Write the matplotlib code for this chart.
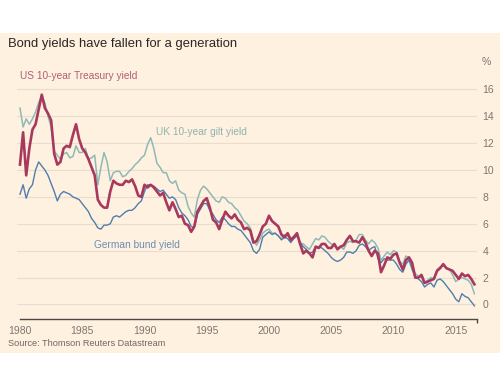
import numpy as np
import matplotlib
matplotlib.use("Agg")
import matplotlib.pyplot as plt
from matplotlib.patches import Rectangle

# Quarterly readings, 1980.0 onward (step 0.25 year)
us_treasury = [
    10.4, 12.8, 9.6, 11.6,
    13.0, 13.4, 14.5, 15.6,
    14.6, 14.2, 13.7, 11.2,
    10.4, 10.6, 11.6, 11.8,
    11.7, 12.6, 13.4, 12.3,
    11.6, 11.3, 10.8, 10.2,
    9.6, 7.8, 7.4, 7.2,
    7.2, 8.4, 9.2, 9.0,
    8.9, 8.9, 9.2, 9.1,
    9.3, 8.8, 8.1, 8.0,
    8.9, 8.7, 8.9, 8.7,
    8.4, 8.1, 8.3, 7.6,
    7.0, 7.6, 7.1, 6.5,
    6.6, 6.0, 5.9, 5.4,
    5.8, 6.9, 7.3, 7.7,
    7.9, 7.2, 6.3, 6.1,
    5.6, 6.3, 6.9, 6.6,
    6.4, 6.7, 6.3, 6.1,
    5.6, 5.7, 5.5, 4.6,
    4.7, 5.2, 5.8, 6.0,
    6.6, 6.2, 6.0, 5.8,
    5.2, 5.0, 5.3, 4.8,
    5.0, 5.3, 4.5, 3.8,
    4.0, 3.8, 3.5, 4.3,
    4.2, 4.5, 4.5, 4.2,
    4.2, 4.5, 4.1, 4.3,
    4.4, 4.8, 5.1, 4.7,
    4.7, 4.6, 5.0, 4.6,
    4.0, 3.6, 4.0, 3.8,
    2.4, 2.9, 3.5, 3.4,
    3.7, 3.8, 3.1, 2.6,
    3.3, 3.5, 3.1, 2.0,
    2.0, 2.2, 1.6, 1.7,
    1.8, 1.9, 2.5, 2.7,
    3.0, 2.7, 2.6, 2.5,
    2.2, 1.9, 2.3, 2.1,
    2.2, 1.9, 1.5,
]

uk_gilt = [
    14.6, 13.2, 13.8, 13.4,
    13.8, 14.3, 15.0, 15.5,
    15.0, 14.0, 13.2, 11.4,
    11.1, 10.8, 11.2, 11.3,
    10.9, 11.0, 11.8, 11.3,
    11.3, 11.6, 10.8, 10.9,
    11.1, 8.9, 10.2, 11.3,
    10.6, 9.2, 9.8, 9.9,
    9.9, 9.5, 9.6, 9.9,
    10.1, 10.4, 10.6, 10.9,
    11.1, 11.9, 12.4, 11.6,
    10.5, 10.2, 9.8, 9.8,
    9.2, 9.0, 9.2, 8.5,
    8.3, 8.2, 7.3, 6.8,
    6.5, 7.8, 8.5, 8.8,
    8.6, 8.3, 8.0, 7.7,
    7.6, 8.0, 7.9, 7.6,
    7.5, 7.2, 7.0, 6.6,
    6.2, 6.0, 5.7, 4.8,
    4.4, 4.8, 5.3, 5.5,
    5.6, 5.3, 5.3, 5.1,
    4.9, 5.2, 5.1, 4.9,
    5.1, 5.3, 4.6, 4.5,
    4.3, 4.1, 4.5, 4.9,
    4.8, 5.1, 5.0, 4.7,
    4.5, 4.4, 4.2, 4.3,
    4.1, 4.6, 4.7, 4.6,
    4.8, 5.2, 5.2, 4.8,
    4.5, 4.8, 4.6, 4.2,
    3.3, 3.6, 3.9, 3.7,
    4.0, 3.9, 3.2, 3.0,
    3.6, 3.5, 2.8, 2.3,
    2.1, 2.0, 1.6, 1.8,
    2.0, 1.9, 2.6, 2.8,
    2.9, 2.7, 2.6, 2.2,
    1.7, 1.9, 2.0, 1.9,
    1.8, 1.5, 0.8,
]

german_bund = [
    8.2, 8.9, 7.9, 8.6,
    8.9, 10.0, 10.6, 10.3,
    10.0, 9.6, 9.0, 8.4,
    7.7, 8.2, 8.4, 8.3,
    8.2, 8.0, 7.9, 7.8,
    7.5, 7.2, 6.9, 6.4,
    6.1, 5.7, 5.6, 5.9,
    5.9, 6.0, 6.5, 6.6,
    6.5, 6.7, 6.9, 7.0,
    7.0, 7.2, 7.5, 7.7,
    8.4, 8.9, 8.9, 8.8,
    8.6, 8.4, 8.5, 8.2,
    7.9, 8.0, 7.8, 7.2,
    6.8, 6.6, 6.3, 5.8,
    5.7, 6.7, 7.1, 7.5,
    7.5, 7.0, 6.7, 6.3,
    6.1, 6.5, 6.3, 6.0,
    5.8, 5.8, 5.6, 5.5,
    5.2, 4.9, 4.6, 4.0,
    3.8, 4.1, 5.0, 5.2,
    5.4, 5.2, 5.3, 5.1,
    4.8, 5.0, 4.9, 4.6,
    4.9, 5.1, 4.6, 4.3,
    4.1, 3.8, 3.9, 4.3,
    4.3, 4.2, 4.0, 3.8,
    3.5, 3.3, 3.2, 3.3,
    3.5, 3.9, 3.9, 3.8,
    4.0, 4.4, 4.5, 4.3,
    4.0, 4.2, 4.3, 3.4,
    3.1, 3.4, 3.3, 3.3,
    3.3, 3.0, 2.6, 2.4,
    3.0, 3.3, 2.6, 2.0,
    1.9, 1.7, 1.3, 1.5,
    1.6, 1.3, 1.8, 1.9,
    1.7, 1.4, 1.1, 0.8,
    0.4, 0.2, 0.8, 0.6,
    0.5, 0.2, -0.1,
]

year_ticks = [1980, 1985, 1990, 1995, 2000, 2005, 2010, 2015]
yield_ticks = [0, 2, 4, 6, 8, 10, 12, 14, 16]

dates = 1980 + 0.25 * np.arange(len(us_treasury))

BG = "#fff1e0"
plt.rcParams['font.family'] = ['Liberation Sans', 'DejaVu Sans']

fig = plt.figure(figsize=(5.0, 3.89), dpi=100, facecolor="white")
fig.patches.append(Rectangle((0, 36 / 389), 1, 320 / 389, transform=fig.transFigure,
                             facecolor=BG, edgecolor="none", zorder=-10))

ax = fig.add_axes([17 / 500, 70 / 389, 460 / 500, 264 / 389])
ax.set_zorder(5)
ax.patch.set_alpha(0)

ax.plot(dates, uk_gilt, color="#8dbab6", lw=1.1, zorder=3)
ax.plot(dates, german_bund, color="#4f7eac", lw=1.0, zorder=4)
ax.plot(dates, us_treasury, color="#a8385c", lw=1.9, zorder=5)

ax.set_xlim(1979.76, 2016.71)
ax.set_ylim(-1.08, 18.55)

for s in ["top", "left", "right"]:
    ax.spines[s].set_visible(False)
ax.spines["bottom"].set_color("#4d4845")
ax.spines["bottom"].set_linewidth(1.0)
ax.spines["bottom"].set_bounds(1980, 2016.71)

ax.set_xticks(year_ticks)
ax.set_xticklabels([str(y) for y in year_ticks])
ax.tick_params(axis="x", length=0, pad=5, labelsize=7.5, labelcolor="#7d7671")
ax.set_xticks([1980, 2016.7], minor=True)
ax.tick_params(axis="x", which="minor", length=3, width=1.0, color="#4d4845", direction="out")

ax.yaxis.tick_right()
ax.set_yticks(yield_ticks)
ax.set_yticklabels([str(v) for v in yield_ticks])
ax.tick_params(axis="y", length=0, pad=4, labelsize=7.5, labelcolor="#7d7671")
for lab in ax.get_yticklabels():
    lab.set_horizontalalignment("left")
ax.grid(axis="y", color="#e9ddcf", lw=0.8, zorder=1)
ax.text(1.009, 18.0, "%", transform=ax.get_yaxis_transform(), ha="left", va="center",
        fontsize=7.5, color="#7d7671")

ax.text(1980.0, 17.0, "US 10-year Treasury yield", fontsize=7.3, color="#b15e77",
        ha="left", va="center")
ax.text(1990.92, 12.8, "UK 10-year gilt yield", fontsize=7.3, color="#8fb3b0",
        ha="left", va="center")
ax.text(1985.95, 4.4, "German bund yield", fontsize=7.3, color="#6a8db4",
        ha="left", va="center")

fig.text(8 / 500, 1 - 44 / 389, "Bond yields have fallen for a generation", fontsize=9.4,
         color="#2b2523", ha="left", va="center")
fig.text(8 / 500, 1 - 344 / 389, "Source: Thomson Reuters Datastream", fontsize=6.6,
         color="#6e6762", ha="left", va="center")

fig.savefig("out.png", dpi=100, facecolor="white")
